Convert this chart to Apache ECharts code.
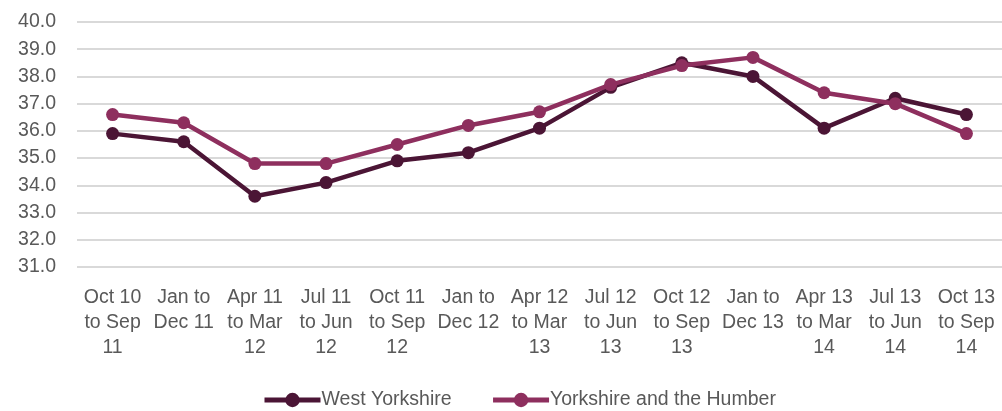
<!DOCTYPE html>
<html><head><meta charset="utf-8">
<script src="https://cdn.jsdelivr.net/npm/echarts@6/dist/echarts.min.js"></script>
<style>html,body{margin:0;padding:0;background:#fff}#c{width:1002px;height:411px}</style>
</head><body><div id="c"></div>
<script>
const categories = ["Oct 10\nto Sep\n11","Jan to\nDec 11","Apr 11\nto Mar\n12","Jul 11\nto Jun\n12","Oct 11\nto Sep\n12","Jan to\nDec 12","Apr 12\nto Mar\n13","Jul 12\nto Jun\n13","Oct 12\nto Sep\n13","Jan to\nDec 13","Apr 13\nto Mar\n14","Jul 13\nto Jun\n14","Oct 13\nto Sep\n14"];
const westYorkshire = [35.9,35.6,33.6,34.1,34.9,35.2,36.1,37.6,38.5,38.0,36.1,37.2,36.6];
const yorksHumber = [36.6,36.3,34.8,34.8,35.5,36.2,36.7,37.7,38.4,38.7,37.4,37.0,35.9];
const seriesNames = ["West Yorkshire","Yorkshire and the Humber"];
const colors = ["#4b1535","#8e2f5e"];
const chart = echarts.init(document.getElementById('c'));
const font = "Liberation Sans, Arial, sans-serif";
chart.setOption({
  animation:false,
  grid:{left:77,right:-4,top:22,bottom:144,containLabel:false},
  legend:{bottom:-4,left:257,itemWidth:56,itemHeight:18,itemGap:39,
    lineStyle:{width:5},
    textStyle:{fontFamily:font,fontSize:19.5,color:'#595959',padding:[0,0,0,-4]},
    data:seriesNames},
  xAxis:{type:'category',data:categories,
    axisLine:{show:false},axisTick:{show:false},
    axisLabel:{interval:0,fontFamily:font,fontSize:19.5,color:'#595959',lineHeight:25,margin:18}},
  yAxis:{type:'value',min:31,max:40,interval:1,
    axisLabel:{fontFamily:font,fontSize:19.5,color:'#595959',margin:21,formatter:v=>v.toFixed(1)},
    splitLine:{lineStyle:{color:'#d9d9d9',width:2}},axisLine:{show:false},axisTick:{show:false}},
  series:[
    {name:seriesNames[0],type:'line',data:westYorkshire,color:colors[0],symbol:'circle',symbolSize:13,
     lineStyle:{width:4.5,color:colors[0]},itemStyle:{color:colors[0]},z:2},
    {name:seriesNames[1],type:'line',data:yorksHumber,color:colors[1],symbol:'circle',symbolSize:13,
     lineStyle:{width:4.5,color:colors[1]},itemStyle:{color:colors[1]},z:3}
  ]
});
</script></body></html>
